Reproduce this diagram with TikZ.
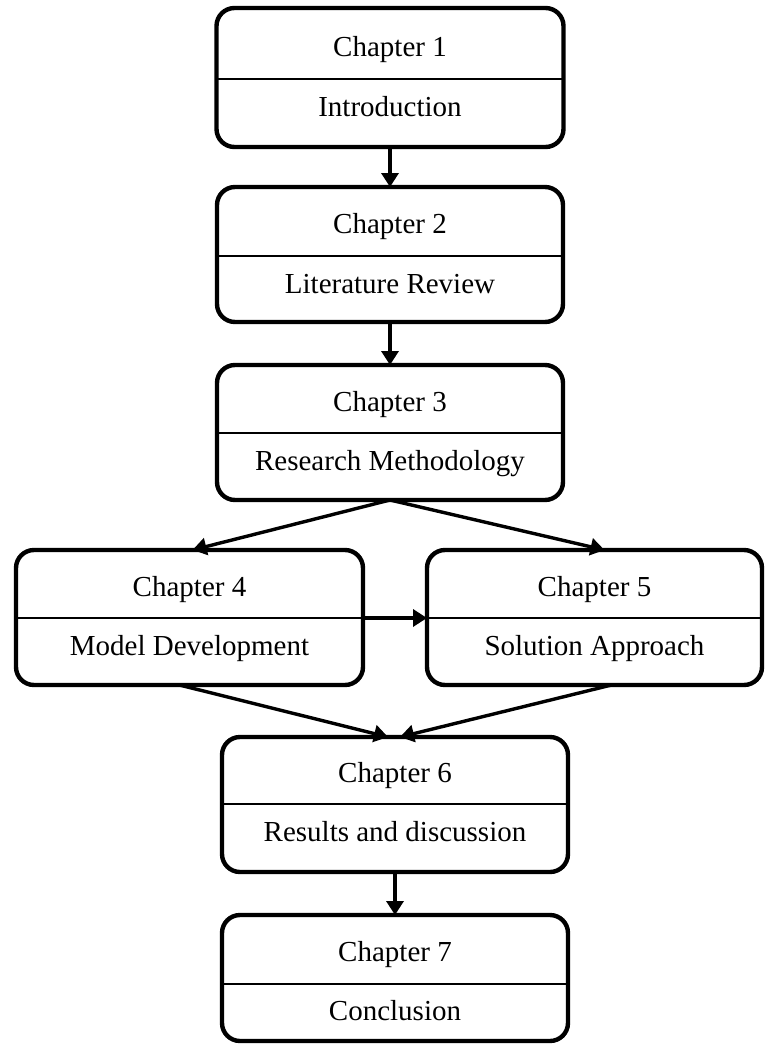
\documentclass[tikz,border=0pt]{standalone}
\usepackage{fontspec}
\setmainfont{Liberation Serif}
\usetikzlibrary{arrows.meta,calc}
\begin{document}
\begin{tikzpicture}[x=1pt,y=-1pt,
  chbox/.style={draw=black, line width=4.4pt, rounded corners=18pt, inner sep=0pt, outer sep=0pt, fill=white},
  lbl/.style={anchor=base, inner sep=0pt, font=\fontsize{29}{34}\selectfont},
  divider/.style={line width=1.6pt},
  conn/.style={line width=3.4pt, -{Triangle[length=14pt,width=17pt]}}
]
\fill[white] (0,0) rectangle (765,1047);
\useasboundingbox (0,0) rectangle (765,1047);

% boxes
\node[chbox, minimum width=347pt, minimum height=139pt] (b1) at (390,77.5) {};
\node[chbox, minimum width=346pt, minimum height=135pt] (b2) at (390,254.5) {};
\node[chbox, minimum width=346pt, minimum height=135pt] (b3) at (390,432.5) {};
\node[chbox, minimum width=347pt, minimum height=135pt] (b4) at (189.5,617.5) {};
\node[chbox, minimum width=335pt, minimum height=135pt] (b5) at (594.5,617.5) {};
\node[chbox, minimum width=346pt, minimum height=135pt] (b6) at (395,804.5) {};
\node[chbox, minimum width=346pt, minimum height=126pt] (b7) at (395,978) {};

% dividers
\draw[divider] ($(b1.north west)+(0,71)$) -- ($(b1.north east)+(0,71)$);
\draw[divider] ($(b2.north west)+(0,69)$) -- ($(b2.north east)+(0,69)$);
\draw[divider] ($(b3.north west)+(0,68)$) -- ($(b3.north east)+(0,68)$);
\draw[divider] ($(b4.north west)+(0,68)$) -- ($(b4.north east)+(0,68)$);
\draw[divider] ($(b5.north west)+(0,68)$) -- ($(b5.north east)+(0,68)$);
\draw[divider] ($(b6.north west)+(0,67)$) -- ($(b6.north east)+(0,67)$);
\draw[divider] ($(b7.north west)+(0,69)$) -- ($(b7.north east)+(0,69)$);

% texts
\node[lbl] (t1a) at ($(b1.north)+(0,48)$) {Chapter 1};
\node[lbl] (t1b) at ($(b1.north)+(0,108)$) {Introduction};
\node[lbl] (t2a) at ($(b2.north)+(0,46)$) {Chapter 2};
\node[lbl] (t2b) at ($(b2.north)+(0,106)$) {Literature Review};
\node[lbl] (t3a) at ($(b3.north)+(0,46)$) {Chapter 3};
\node[lbl] (t3b) at ($(b3.north)+(0,105)$) {Research Methodology};
\node[lbl] (t4a) at ($(b4.north)+(0,46)$) {Chapter 4};
\node[lbl] (t4b) at ($(b4.north)+(0,105)$) {Model Development};
\node[lbl] (t5a) at ($(b5.north)+(0,46)$) {Chapter 5};
\node[lbl] (t5b) at ($(b5.north)+(0,105)$) {Solution Approach};
\node[lbl] (t6a) at ($(b6.north)+(0,45)$) {Chapter 6};
\node[lbl] (t6b) at ($(b6.north)+(0,104)$) {Results and discussion};
\node[lbl] (t7a) at ($(b7.north)+(0,46)$) {Chapter 7};
\node[lbl] (t7b) at ($(b7.north)+(0,105)$) {Conclusion};

% connectors
\draw[conn] (b1.south) -- (b2.north);
\draw[conn] (b2.south) -- (b3.north);
\draw[conn] (b3.south) -- ($(b4.north)+(3,0)$);
\draw[conn] (b3.south) -- ($(b5.north)+(10,0)$);
\draw[conn] ($(b4.north east)+(0,68)$) -- ($(b5.north west)+(0,68)$);
\draw[conn] ($(b4.south)+(-10,0)$) -- ($(b6.north)+(-7,0)$);
\draw[conn] ($(b5.south)+(17,0)$) -- ($(b6.north)+(5,0)$);
\draw[conn] (b6.south) -- (b7.north);
\end{tikzpicture}
\end{document}
